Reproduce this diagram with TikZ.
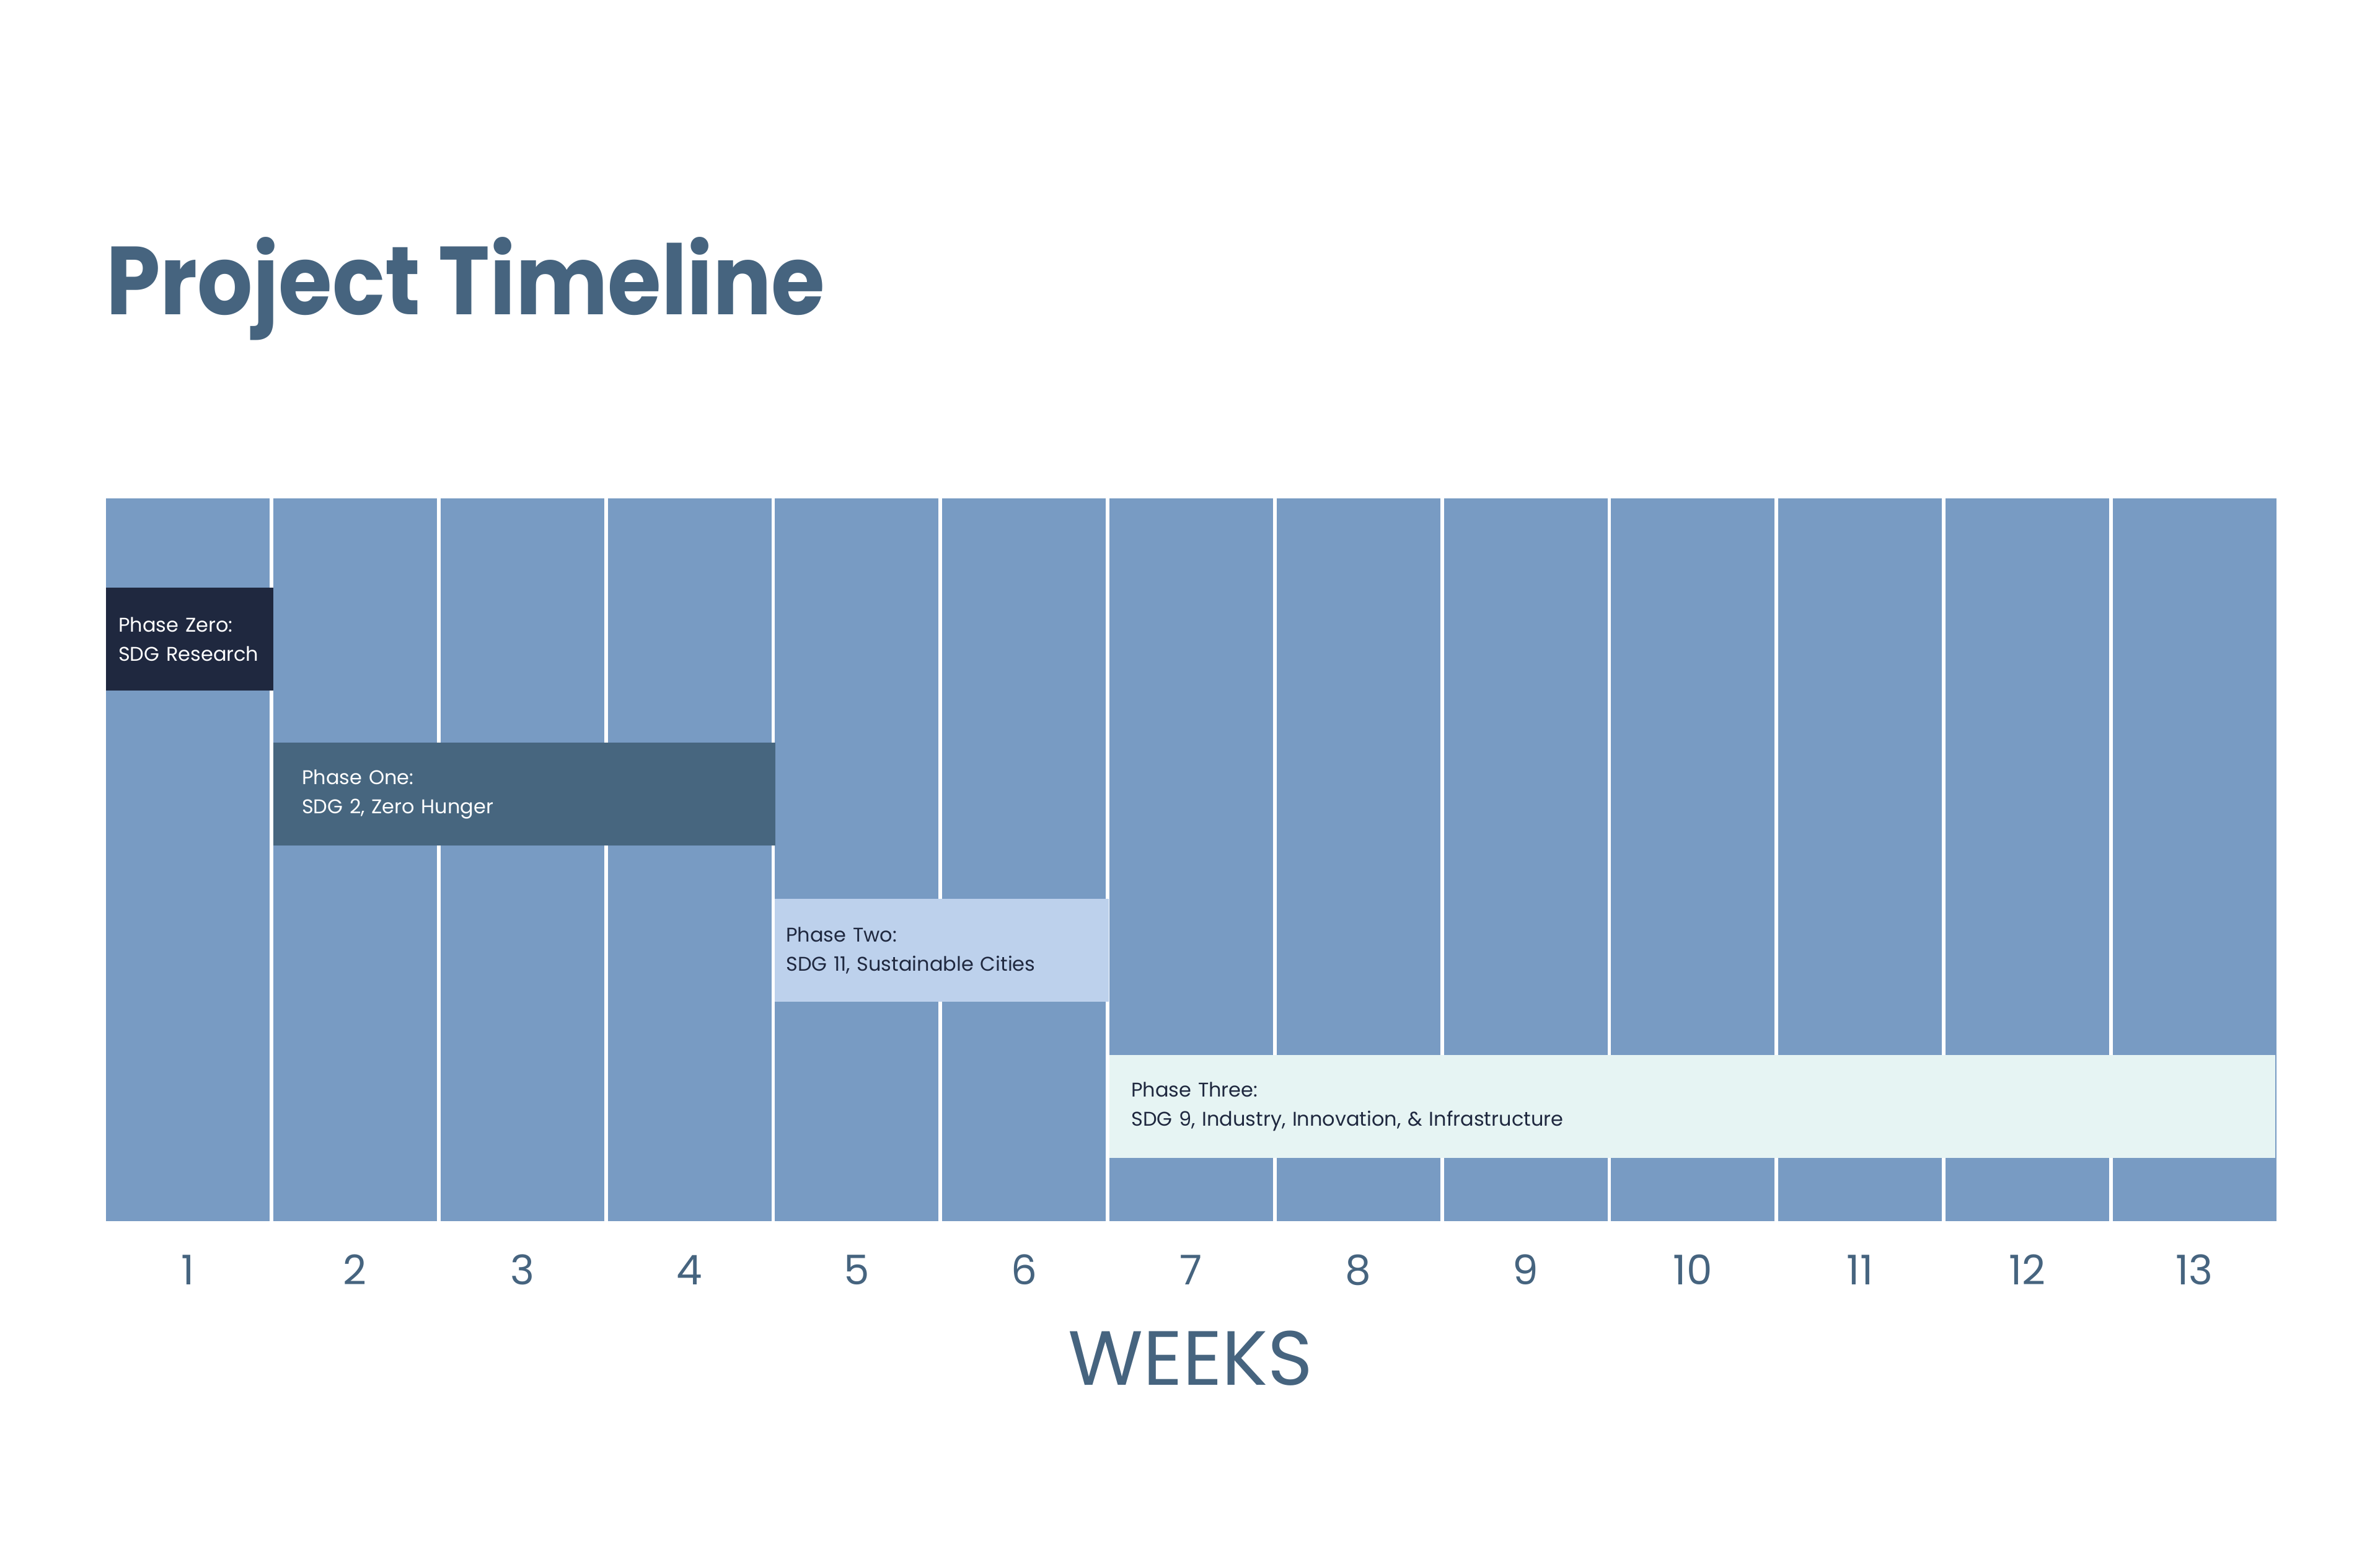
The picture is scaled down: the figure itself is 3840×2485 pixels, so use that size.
\documentclass[tikz,border=0pt]{standalone}
\usepackage{fontspec}
\setmainfont{Poppins}
\definecolor{colblue}{HTML}{789BC3}
\definecolor{inkblue}{HTML}{46647F}
\definecolor{pzero}{HTML}{1F283F}
\definecolor{pone}{HTML}{47667F}
\definecolor{ptwo}{HTML}{BDD1EC}
\definecolor{pthree}{HTML}{E6F4F3}
\tikzset{
  weekcol/.style={fill=colblue, draw=none, inner sep=0pt, minimum width=264pt, minimum height=1166pt, anchor=north west},
  phasebox/.style={draw=none, inner ysep=0pt, anchor=north west, minimum height=166pt, align=left,
     font={\fontsize{32}{47}\selectfont}},
  weeknum/.style={anchor=base, text=inkblue, font={\fontsize{66}{70}\selectfont}},
}
\begin{document}
\begin{tikzpicture}[x=1pt,y=-1pt]
\useasboundingbox[fill=white] (0,0) rectangle (3840,2485);
\node[anchor=base west, text=inkblue, inner sep=0pt, font={\fontsize{156}{170}\selectfont\bfseries}] (title) at (171,507) {\scalebox{0.9}[1]{Project Timeline}};
\foreach \i in {1,...,13}{
  \node[weekcol] (col\i) at ({171+(\i-1)*269.8},804) {};
  \node[weeknum] (num\i) at ({171+(\i-1)*269.8+132},2072) {\i};
}
\node[phasebox, fill=pzero, text=white, minimum width=270pt, text width=230pt, inner xsep=20pt] (p0) at (171,948) {Phase Zero:\\SDG Research};
\node[phasebox, fill=pone, text=white, minimum width=810pt, text width=718pt, inner xsep=46pt] (p1) at (441,1198) {Phase One:\\SDG 2, Zero Hunger};
\node[phasebox, fill=ptwo, text=pzero, minimum width=539pt, text width=503pt, inner xsep=18pt] (p2) at (1250,1450) {Phase Two:\\SDG 11, Sustainable Cities};
\node[phasebox, fill=pthree, text=pzero, minimum width=1881pt, text width=1811pt, inner xsep=35pt] (p3) at (1790,1702) {Phase Three:\\SDG 9, Industry, Innovation, \& Infrastructure};
\node[anchor=base, text=inkblue, font={\fontsize{124}{130}\selectfont}] (weeks) at (1921,2234) {WEEKS};
\end{tikzpicture}
\end{document}
